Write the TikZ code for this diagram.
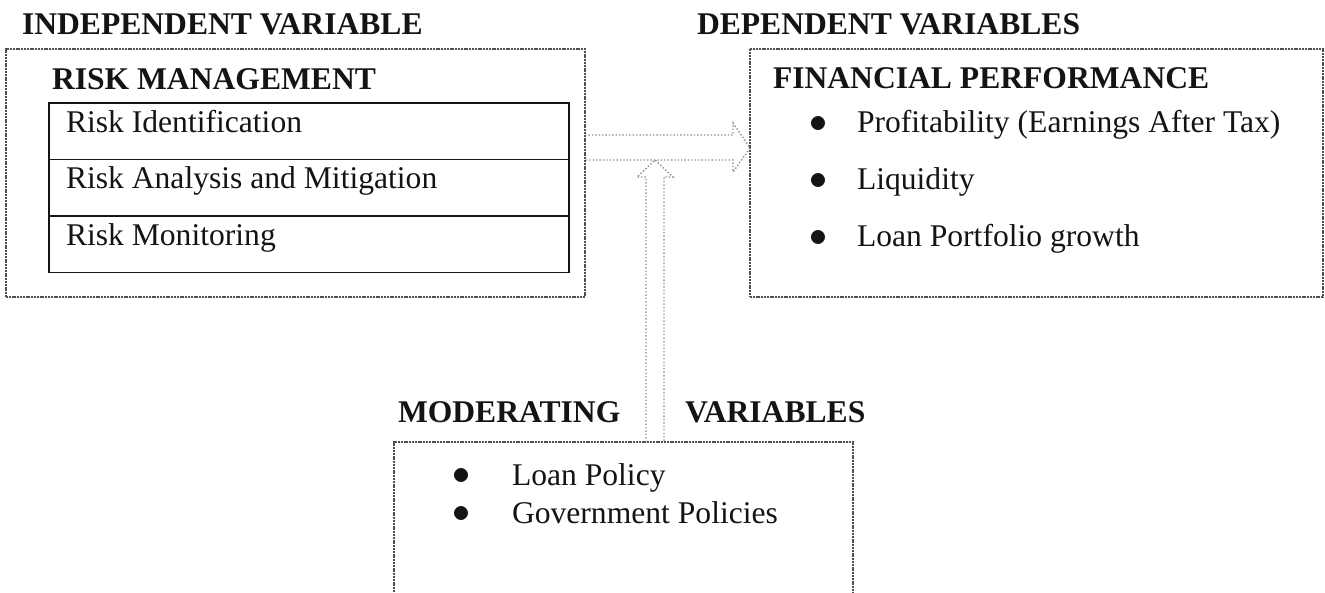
\documentclass[tikz,border=0pt]{standalone}
\usepackage{fontspec}
\setmainfont{Liberation Serif}
\usetikzlibrary{positioning,calc}
\definecolor{ink}{RGB}{20,20,20}
\definecolor{scan}{RGB}{80,80,80}
\definecolor{arrowln}{RGB}{140,140,140}
\newcommand{\itemdot}{\raisebox{0.4pt}{\scalebox{1.25}{$\bullet$}}}

\begin{document}
\begin{tikzpicture}[
  x=0.5pt,y=-0.5pt,
  font=\fontsize{15.8}{19}\selectfont,
  every node/.style={inner sep=0pt,outer sep=0pt,text=ink},
  frame/.style={draw=scan,dash pattern=on 1pt off 0.4pt,line width=0.9pt},
  head/.style={font=\fontsize{15.8}{19}\selectfont\bfseries,anchor=base west},
  riskrow/.style={draw=ink,line width=0.7pt,minimum width=260pt,minimum height=28.2pt,
    text width=243pt,align=flush left,inner xsep=8.5pt,text height=14.75pt,text depth=13.45pt},
  hollow/.style={draw=arrowln,densely dotted,line width=0.7pt},
]
\clip (0,0) rectangle (1325,593);
% frames
\node[frame,minimum width=289.5pt,minimum height=124pt] (rm) at (295.5,173) {};
\node[frame,minimum width=286.5pt,minimum height=124pt] (fp) at (1036.5,173) {};
\node[frame,minimum width=229.5pt,minimum height=90pt] (mod) at (623.5,532) {};
% headings
\node[head] (indep) at (22,35) {INDEPENDENT VARIABLE};
\node[head] (dep) at (697,35) {DEPENDENT VARIABLES};
\node[head] (rmtitle) at ($(rm.north west)+(46,41)$) {RISK MANAGEMENT};
\node[head] (fptitle) at ($(fp.north west)+(23,40)$) {FINANCIAL PERFORMANCE};
\node[head] (modl) at (398,422) {MODERATING};
\node[head] (modr) at (685,422) {VARIABLES};
% risk management components
\node[riskrow,anchor=north west] (rid) at ($(rm.north west)+(43,54)$) {Risk Identification};
\node[riskrow,below=0pt of rid] (ran) {Risk Analysis and Mitigation};
\node[riskrow,below=0pt of ran] (rmo) {Risk Monitoring};
% indicator lists
\node[anchor=base west] (fpitems) at ($(fp.north west)+(59,84)$) {%
  \begin{tabular}[t]{@{}p{24pt}@{}l@{}}
    \itemdot & Profitability (Earnings After Tax)\\[9.5pt]
    \itemdot & Liquidity\\[9.5pt]
    \itemdot & Loan Portfolio growth
  \end{tabular}};
\node[anchor=base west] (moditems) at ($(mod.north west)+(58,43)$) {%
  \begin{tabular}[t]{@{}p{30pt}@{}l@{}}
    \itemdot & Loan Policy\\
    \itemdot & Government Policies
  \end{tabular}};
% block arrows
\coordinate (meet) at ($(rm.east)+(70,-13)$);
\draw[hollow] ($(rm.east)+(0,-38)$) -- ++(148,0) -- ++(0,-12) -- ($(fp.west)+(0,-25)$)
  -- ++(-17,24) -- ++(0,-12) -- ($(rm.east)+(0,-13)$);
\draw[hollow] ($(mod.north)+(22.5,0)$) -- ++(0,-265) -- ++(-9,0) -- (meet)
  -- ++(18,17) -- ++(-9,0) -- ($(mod.north)+(40.5,0)$);
\end{tikzpicture}
\end{document}
